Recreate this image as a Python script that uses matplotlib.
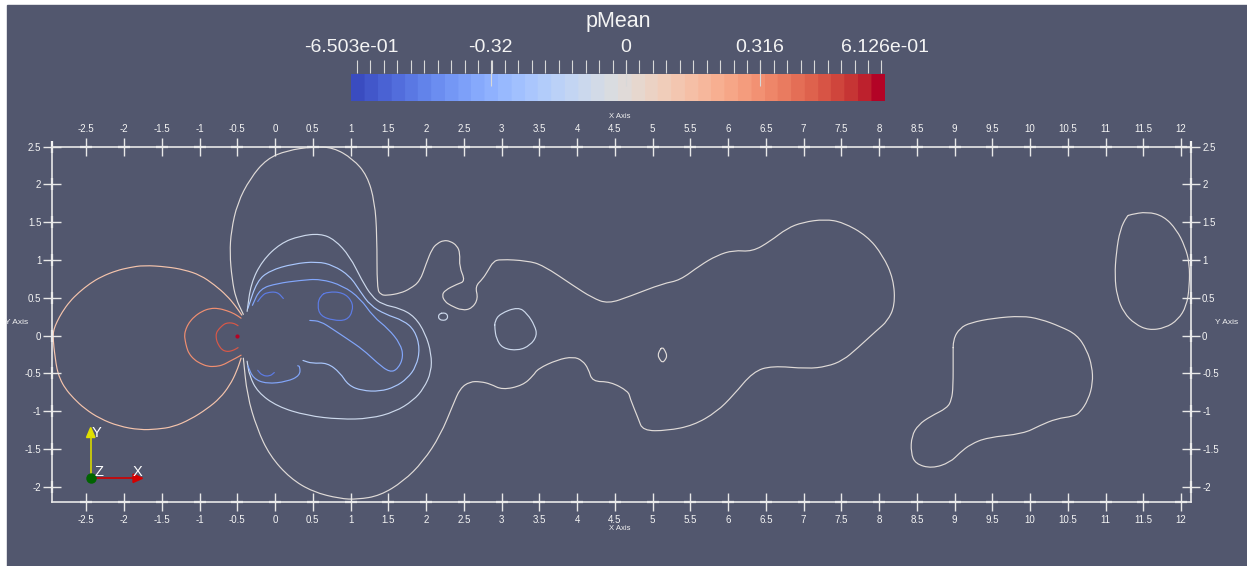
import numpy as np
import matplotlib.pyplot as plt
from matplotlib.colors import Normalize
from matplotlib.patches import Rectangle, Polygon, PathPatch
from matplotlib.path import Path
from matplotlib.lines import Line2D

plt.rcParams['font.family'] = ['Liberation Sans', 'DejaVu Sans']
plt.rcParams['axes.unicode_minus'] = False

# pMean range and the iso-values drawn
p_min, p_max = -0.6503, 0.6126
iso_values = [-0.51, -0.37, -0.23, -0.09, 0.0, 0.14, 0.33, 0.47, 0.6126]

# ---- iso-lines (x, y) -------------------------------------------------------
# stagnation zone in front of the cylinder
front_outer = np.array([
    (-0.44, 0.27), (-0.53, 0.40), (-0.64, 0.53), (-0.80, 0.67), (-0.99, 0.80),
    (-1.20, 0.87), (-1.43, 0.91), (-1.74, 0.93), (-1.93, 0.90), (-2.10, 0.86),
    (-2.30, 0.78), (-2.45, 0.69), (-2.60, 0.57), (-2.72, 0.45), (-2.82, 0.31),
    (-2.89, 0.18), (-2.93, 0.08), (-2.94, 0.00), (-2.93, -0.15), (-2.91, -0.30),
    (-2.89, -0.44), (-2.85, -0.57), (-2.78, -0.70), (-2.67, -0.83), (-2.52, -0.97),
    (-2.32, -1.10), (-2.07, -1.20), (-1.79, -1.25), (-1.56, -1.24), (-1.35, -1.21),
    (-1.12, -1.11), (-0.90, -0.97), (-0.73, -0.83), (-0.60, -0.66), (-0.51, -0.48),
    (-0.45, -0.30)])
front_mid = np.array([
    (-0.45, 0.23), (-0.54, 0.29), (-0.64, 0.33), (-0.75, 0.36), (-0.86, 0.36),
    (-0.97, 0.32), (-1.07, 0.25), (-1.14, 0.17), (-1.18, 0.09), (-1.20, 0.01),
    (-1.19, -0.07), (-1.17, -0.16), (-1.14, -0.24), (-1.07, -0.32), (-0.99, -0.37),
    (-0.89, -0.41), (-0.78, -0.41), (-0.69, -0.39), (-0.60, -0.34), (-0.52, -0.30),
    (-0.45, -0.26)])
front_inner = np.array([
    (-0.49, 0.13), (-0.54, 0.16), (-0.60, 0.17), (-0.66, 0.16), (-0.70, 0.13),
    (-0.75, 0.08), (-0.78, 0.03), (-0.78, -0.03), (-0.77, -0.08), (-0.74, -0.14),
    (-0.70, -0.19), (-0.65, -0.21), (-0.60, -0.21), (-0.54, -0.19), (-0.49, -0.16)])
front_peak = (-0.505, 0.0)

# long iso-line around the near wake and the far wake
wake_main = np.array([
    (-0.42, 0.28), (-0.52, 0.49), (-0.57, 0.75), (-0.60, 1.09), (-0.58, 1.39),
    (-0.50, 1.75), (-0.33, 2.08), (-0.11, 2.34), (0.16, 2.45), (0.50, 2.50),
    (0.77, 2.49), (1.03, 2.34), (1.22, 2.12), (1.32, 1.77), (1.35, 1.32),
    (1.35, 0.62), (1.40, 0.54), (1.48, 0.53), (1.66, 0.56), (1.79, 0.62),
    (1.92, 0.72), (2.00, 0.95), (2.08, 1.15), (2.15, 1.22), (2.23, 1.26),
    (2.32, 1.25), (2.41, 1.19), (2.45, 1.09), (2.44, 0.91), (2.52, 0.72),
    (2.41, 0.68), (2.25, 0.60), (2.21, 0.53), (2.25, 0.45), (2.32, 0.40),
    (2.48, 0.33), (2.61, 0.36), (2.69, 0.49), (2.65, 0.65), (2.75, 0.75),
    (2.82, 0.86), (2.89, 0.98), (2.98, 1.01), (3.34, 0.99), (3.55, 0.93),
    (3.95, 0.66), (4.20, 0.50), (4.41, 0.42), (4.70, 0.52), (5.14, 0.69),
    (5.36, 0.73), (5.63, 0.93), (5.85, 1.06), (6.07, 1.13), (6.32, 1.11),
    (6.56, 1.25), (6.78, 1.42), (6.99, 1.50), (7.28, 1.54), (7.52, 1.50),
    (7.84, 1.32), (8.05, 1.06), (8.19, 0.75), (8.21, 0.40), (8.11, 0.19),
    (7.97, 0.07), (7.71, -0.17), (7.52, -0.33), (7.31, -0.41), (7.05, -0.44),
    (6.58, -0.40), (6.33, -0.48), (6.07, -0.79), (5.85, -1.01), (5.54, -1.19),
    (5.19, -1.26), (4.87, -1.26), (4.81, -1.10), (4.70, -0.83), (4.68, -0.74),
    (4.44, -0.61), (4.20, -0.61), (4.15, -0.44), (4.07, -0.33), (3.95, -0.28),
    (3.74, -0.32), (3.48, -0.44), (3.42, -0.53), (3.28, -0.66), (3.01, -0.72),
    (2.85, -0.64), (2.72, -0.61), (2.58, -0.61), (2.45, -0.70), (2.36, -0.91),
    (2.19, -1.32), (1.96, -1.67), (1.70, -1.93), (1.39, -2.12), (1.09, -2.17),
    (0.86, -2.16), (0.50, -2.07), (0.20, -1.89), (-0.07, -1.59), (-0.24, -1.23),
    (-0.37, -0.79), (-0.42, -0.30)])

# recirculation bubble behind the cylinder
recirc_1 = np.array([
    (-0.37, 0.32), (-0.32, 0.69), (-0.17, 0.99), (0.07, 1.22), (0.33, 1.32),
    (0.60, 1.35), (0.79, 1.27), (0.99, 1.05), (1.15, 0.73), (1.28, 0.52),
    (1.42, 0.41), (1.66, 0.36), (1.85, 0.25), (1.99, 0.03), (2.07, -0.24),
    (2.07, -0.48), (1.97, -0.70), (1.83, -0.86), (1.59, -1.01), (1.26, -1.10),
    (0.86, -1.11), (0.42, -1.06), (0.03, -0.94), (-0.23, -0.75), (-0.34, -0.53),
    (-0.37, -0.34)])
recirc_2 = np.array([
    (-0.36, 0.36), (-0.24, 0.72), (-0.07, 0.86), (0.24, 0.95), (0.56, 0.98),
    (0.77, 0.93), (0.99, 0.79), (1.13, 0.58), (1.26, 0.40), (1.46, 0.28),
    (1.70, 0.20), (1.85, 0.07), (1.92, -0.17), (1.87, -0.41), (1.75, -0.57),
    (1.59, -0.68), (1.39, -0.74), (1.15, -0.73), (0.97, -0.66), (0.86, -0.49),
    (0.69, -0.36), (0.49, -0.37), (0.37, -0.33)])
recirc_3 = np.array([
    (-0.30, 0.40), (-0.20, 0.62), (0.03, 0.69), (0.33, 0.73), (0.60, 0.75),
    (0.90, 0.66), (1.13, 0.49), (1.30, 0.25), (1.50, 0.09), (1.66, -0.11),
    (1.70, -0.28), (1.63, -0.44), (1.52, -0.49), (1.35, -0.36), (1.17, -0.19),
    (0.95, -0.04), (0.77, 0.08), (0.60, 0.19), (0.46, 0.20)])
recirc_low = np.array([
    (-0.36, -0.40), (-0.29, -0.57), (-0.11, -0.64), (0.16, -0.61), (0.33, -0.53),
    (0.33, -0.41), (0.30, -0.40)])
top_arc = np.array([
    (-0.23, 0.45), (-0.17, 0.53), (-0.11, 0.57), (0.03, 0.58), (0.11, 0.49)])
bottom_arc = np.array([
    (-0.23, -0.46), (-0.17, -0.53), (-0.07, -0.54), (-0.01, -0.49)])
recirc_loop = np.array([
    (0.70, 0.58), (0.90, 0.57), (1.02, 0.46), (1.03, 0.32), (0.95, 0.20),
    (0.77, 0.20), (0.60, 0.26), (0.56, 0.40), (0.60, 0.53)])

# small islands in the wake
island_a = np.array([
    (2.23, 0.30), (2.27, 0.29), (2.29, 0.25), (2.27, 0.21), (2.23, 0.20),
    (2.18, 0.21), (2.16, 0.25), (2.18, 0.29)])
island_b = np.array([
    (2.91, 0.19), (2.98, 0.29), (3.22, 0.38), (3.34, 0.29), (3.44, 0.13),
    (3.47, 0.00), (3.38, -0.13), (3.22, -0.20), (3.01, -0.17), (2.93, -0.04),
    (2.91, 0.09)])
island_c = np.array([
    (5.13, -0.15), (5.17, -0.21), (5.19, -0.27), (5.17, -0.32), (5.13, -0.36),
    (5.09, -0.31), (5.07, -0.26), (5.09, -0.20)])
island_d = np.array([
    (8.98, -0.05), (9.07, 0.10), (9.21, 0.17), (9.51, 0.23), (9.89, 0.26),
    (10.13, 0.22), (10.40, 0.12), (10.62, 0.01), (10.75, -0.19), (10.82, -0.41),
    (10.83, -0.63), (10.77, -0.85), (10.66, -1.02), (10.57, -1.07), (10.35, -1.10),
    (10.13, -1.19), (9.91, -1.30), (9.43, -1.35), (9.21, -1.44), (9.07, -1.55),
    (8.94, -1.68), (8.70, -1.76), (8.48, -1.70), (8.42, -1.55), (8.43, -1.33),
    (8.52, -1.18), (8.68, -1.07), (8.90, -0.96), (8.96, -0.85), (8.98, -0.67),
    (8.98, -0.27)])
island_e = np.array([
    (11.32, 1.60), (11.55, 1.64), (11.77, 1.58), (11.94, 1.40), (12.05, 1.18),
    (12.11, 0.96), (12.11, 0.65), (12.07, 0.39), (11.96, 0.21), (11.79, 0.10),
    (11.57, 0.07), (11.39, 0.15), (11.24, 0.30), (11.15, 0.52), (11.12, 0.79),
    (11.14, 1.10), (11.19, 1.40), (11.28, 1.58)])

# (line, index into iso_values, closed?)
contour_lines = [
    (front_outer, 5, False), (front_mid, 6, False), (front_inner, 7, False),
    (wake_main, 4, False), (recirc_1, 3, False), (recirc_2, 2, False),
    (recirc_3, 1, False), (recirc_low, 1, False), (top_arc, 0, False),
    (bottom_arc, 0, False), (recirc_loop, 0, True),
    (island_a, 3, True), (island_b, 3, True), (island_c, 4, True),
    (island_d, 4, True), (island_e, 4, True),
]

# axes ticks
x_ticks = np.arange(-2.5, 12.01, 0.5)
y_ticks = np.arange(-2.0, 2.51, 0.5)

# colour legend annotations
bar_labels = ['-6.503e-01', '-0.32', '0', '0.316', '6.126e-01']
bar_label_vals = [p_min, -0.32, 0.0, 0.316, p_max]
bar_minor_step = 0.0318
n_bands = 40

# ---------------------------------------------------------------------------
W, H = 1247, 566
bg = '#52576e'
fg = '#e8e8e8'
cmap = plt.get_cmap('coolwarm')
norm = Normalize(p_min, p_max)


def smooth_path(pts, closed):
    # quadratic bezier through segment midpoints, vertices act as controls
    mids = (pts + np.roll(pts, -1, axis=0)) / 2
    if closed:
        verts = [mids[-1]]
        codes = [Path.MOVETO]
        for i in range(len(pts)):
            verts += [pts[i], mids[i]]
            codes += [Path.CURVE3, Path.CURVE3]
        return Path(verts, codes)
    verts = [pts[0], mids[0]]
    codes = [Path.MOVETO, Path.LINETO]
    for i in range(1, len(pts) - 1):
        verts += [pts[i], mids[i]]
        codes += [Path.CURVE3, Path.CURVE3]
    verts.append(pts[-1])
    codes.append(Path.LINETO)
    return Path(verts, codes)


fig = plt.figure(figsize=(W / 100, H / 100), dpi=100, facecolor='white')
fig.add_artist(Rectangle((7 / W, 0), 1 - 7 / W, 1 - 5 / H,
                         transform=fig.transFigure, color=bg, zorder=0))


def fx(px):
    return px / W


def fy(py):
    return 1 - py / H


# main view
ax = fig.add_axes([fx(52.3), fy(501.7), (1191 - 52.3) / W, (501.7 - 146.7) / H])
ax.set_facecolor('none')
ax.set_zorder(2)
ax.set_xlim(-2.95, 12.13)
ax.set_ylim(-2.2, 2.5)

for pts, k, closed in contour_lines:
    ax.add_patch(PathPatch(smooth_path(pts, closed), fill=False,
                           edgecolor=cmap(norm(iso_values[k])), lw=0.85,
                           capstyle='round', clip_on=False))
ax.plot(*front_peak, 'o', ms=2, color=cmap(norm(iso_values[8])))

for s in ax.spines.values():
    s.set_color(fg)
    s.set_linewidth(1.2)

ax.set_xticks(x_ticks)
ax.set_xticklabels([f'{v:g}' for v in x_ticks])
ax.set_yticks(y_ticks)
ax.set_yticklabels([f'{v:g}' for v in y_ticks])
ax.tick_params(axis='both', direction='inout', length=13, width=1.0, color=fg,
               labelcolor='#f4f4f4', labelsize=7, top=True, right=True,
               labeltop=True, labelright=True)
ax.tick_params(axis='x', pad=3)
ax.tick_params(axis='y', pad=1.5)

# the bright cross at every tick
xl, yl = ax.get_xlim(), ax.get_ylim()
for yy in yl:
    ax.plot(x_ticks, np.full_like(x_ticks, yy), ls='none', marker='_', ms=9,
            mew=1.6, color='#f4f4f4', clip_on=False)
for xx in xl:
    ax.plot(np.full_like(y_ticks, xx), y_ticks, ls='none', marker='|', ms=9,
            mew=1.6, color='#f4f4f4', clip_on=False)

fig.text(fx(620), fy(116), 'X Axis', color='#f0f0f0', fontsize=5.5, ha='center', va='center')
fig.text(fx(620), fy(528), 'X Axis', color='#f0f0f0', fontsize=5.5, ha='center', va='center')
fig.text(fx(16.5), fy(322.5), 'Y Axis', color='#f0f0f0', fontsize=6, ha='center', va='center')
fig.text(fx(1227), fy(322.5), 'Y Axis', color='#f0f0f0', fontsize=6, ha='center', va='center')

# colour legend
cax = fig.add_axes([fx(351), fy(101), 534 / W, 27 / H])
cax.imshow(np.linspace(p_min, p_max, 512)[None, :], cmap=plt.get_cmap('coolwarm', n_bands),
           norm=norm, aspect='auto', extent=[p_min, p_max, 0, 1])
cax.set_xlim(p_min, p_max)
cax.set_ylim(0, 1)
cax.axis('off')
minor = np.arange(-20, 20) * bar_minor_step
cax.vlines(minor, 1.04, 1.52, color='#d8d8d8', lw=0.8, clip_on=False)
cax.vlines(bar_label_vals[1:4], 0.55, 1.52, color='#d8d8d8', lw=0.8, clip_on=False)
for v, lab in zip(bar_label_vals, bar_labels):
    cax.text(v, 2.0, lab, ha='center', va='center', fontsize=14, color='#f4f4f4',
             clip_on=False)
cax.text((p_min + p_max) / 2, 2.95, 'pMean', ha='center', va='center', fontsize=15.5,
         color='#f4f4f4', clip_on=False)

# orientation triad
ox, oy = 90.7, 478.3
fig.add_artist(Line2D([fx(ox), fx(ox)], [fy(oy), fy(437)], color='#d8d800', lw=1.2,
                      transform=fig.transFigure))
fig.add_artist(Polygon([(fx(86.5), fy(437.5)), (fx(95), fy(437.5)), (fx(ox), fy(427.5))],
                       closed=True, color='#e0e000', transform=fig.transFigure))
fig.add_artist(Line2D([fx(ox), fx(133)], [fy(oy), fy(oy)], color='#d00000', lw=1.2,
                      transform=fig.transFigure))
fig.add_artist(Polygon([(fx(133), fy(474)), (fx(133), fy(482.5)), (fx(142.5), fy(oy))],
                       closed=True, color='#d40000', transform=fig.transFigure))
fig.add_artist(Line2D([fx(ox)], [fy(oy)], marker='o', ms=6.5, color='#006400',
                      transform=fig.transFigure))
fig.text(fx(97), fy(433), 'Y', color='white', fontsize=10.5, ha='center', va='center')
fig.text(fx(98.5), fy(471.5), 'Z', color='white', fontsize=10.5, ha='center', va='center')
fig.text(fx(138), fy(471.5), 'X', color='white', fontsize=10.5, ha='center', va='center')

fig.savefig('out.png', dpi=100, facecolor='white')
